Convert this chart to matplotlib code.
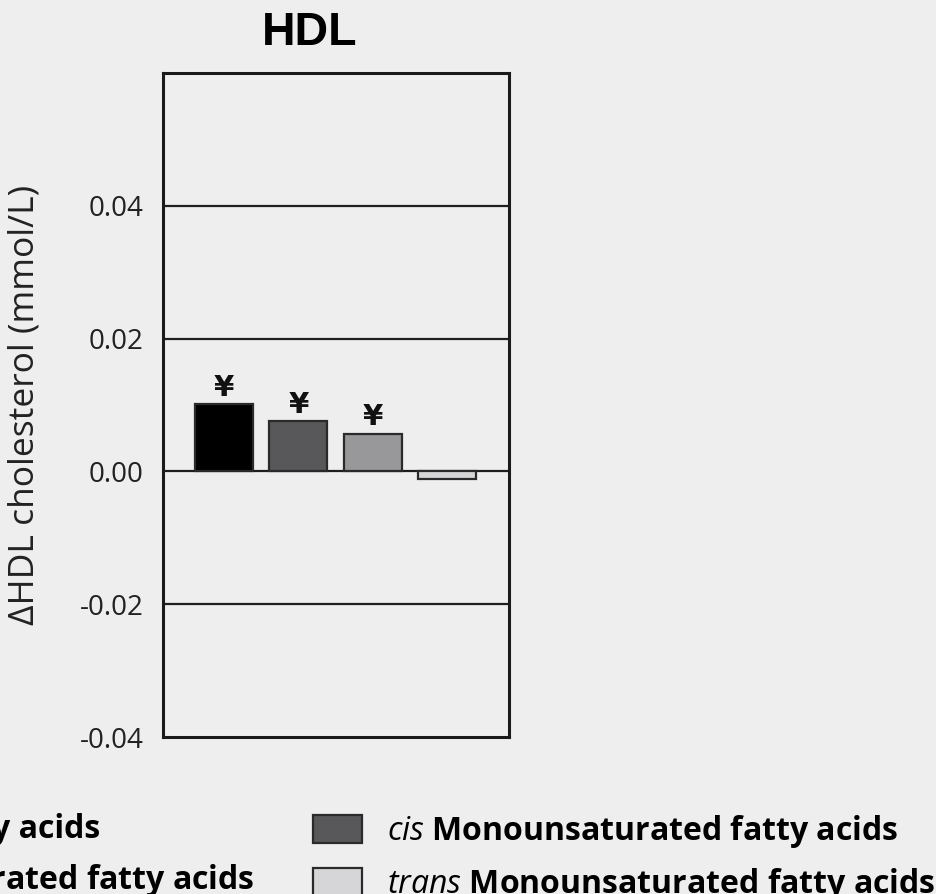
import matplotlib
matplotlib.use("Agg")
import matplotlib.pyplot as plt

# Change in HDL cholesterol per fatty-acid class
categories = ["Saturated fatty acids",
              "cis Monounsaturated fatty acids",
              "cis Polyunsaturated fatty acids",
              "trans Monounsaturated fatty acids"]
legend_labels = ["Saturated fatty acids",
                 r"$\mathit{cis}$ Monounsaturated fatty acids",
                 r"$\mathit{cis}$ Polyunsaturated fatty acids",
                 r"$\mathit{trans}$ Monounsaturated fatty acids"]
values = [0.0102, 0.0076, 0.0057, -0.0011]
significant = [True, True, True, False]
colors = ["#000000", "#58585a", "#98989a", "#d6d6d8"]
yticks = [-0.04, -0.02, 0.00, 0.02, 0.04]
ytick_labels = ["-0.04", "-0.02", "0.00", "0.02", "0.04"]

plt.rcParams["mathtext.fontset"] = "custom"
plt.rcParams["mathtext.it"] = "Open Sans:italic"
plt.rcParams["mathtext.rm"] = "Open Sans"

bg = "#eeeeee"
W, H = 936, 894
fig = plt.figure(figsize=(W / 100, H / 100), dpi=100, facecolor=bg)
ax = fig.add_axes([163 / W, (H - 737) / H, 346 / W, 664 / H], facecolor=bg)

ax.set_ylim(-0.04, 0.06)
ax.set_xlim(-0.82, 3.83)

for y in yticks[1:]:
    ax.axhline(y, color="#1e1e1e", lw=1.6, zorder=1)

xs = list(range(len(values)))
bars = ax.bar(xs, values, width=0.78, color=colors, edgecolor="#2a2a2a",
              linewidth=1.6, zorder=3)

for x, v, sig in zip(xs, values, significant):
    if sig:
        ax.annotate("¥", (x, v), xytext=(0, 1.5), textcoords="offset points",
                    ha="center", va="bottom", fontsize=21, fontweight="bold",
                    family="DejaVu Sans", color="#111111", zorder=4)

ax.set_yticks(yticks)
ax.set_yticklabels(ytick_labels, family="Open Sans", fontsize=20, color="#222222")
ax.tick_params(axis="y", length=0, pad=14)
ax.set_xticks([])

for side in ["left", "right", "top", "bottom"]:
    ax.spines[side].set_linewidth(2.2)
    ax.spines[side].set_color("#1a1a1a")

ax.set_ylabel("\u0394HDL cholesterol (mmol/L)", family="Open Sans", fontsize=25.5,
              color="#222222")
ax.yaxis.set_label_coords((42 - 163) / 346, 0.5)

ax.set_title("HDL", family="Liberation Sans", fontweight="bold", fontsize=33.5,
             x=(309.5 - 163) / 346, pad=20)

fs = 23
px = fs * 100 / 72
leg_kw = dict(frameon=False, handlelength=49 / px, handleheight=31 / px,
              handletextpad=25 / px, labelspacing=0.5, borderaxespad=0,
              prop={"family": "Open Sans", "weight": "bold", "size": fs})

# Left column (extends past the left edge), right column
fig.legend([bars[0], bars[2]], [legend_labels[0], legend_labels[2]],
           loc="upper right", bbox_to_anchor=((254 + 13) / W, (H - 800) / H),
           **leg_kw)
fig.legend([bars[1], bars[3]], [legend_labels[1], legend_labels[3]],
           loc="upper left", bbox_to_anchor=((313 - 13) / W, (H - 800) / H),
           **leg_kw)

fig.savefig("out.png", dpi=100, facecolor=bg)
